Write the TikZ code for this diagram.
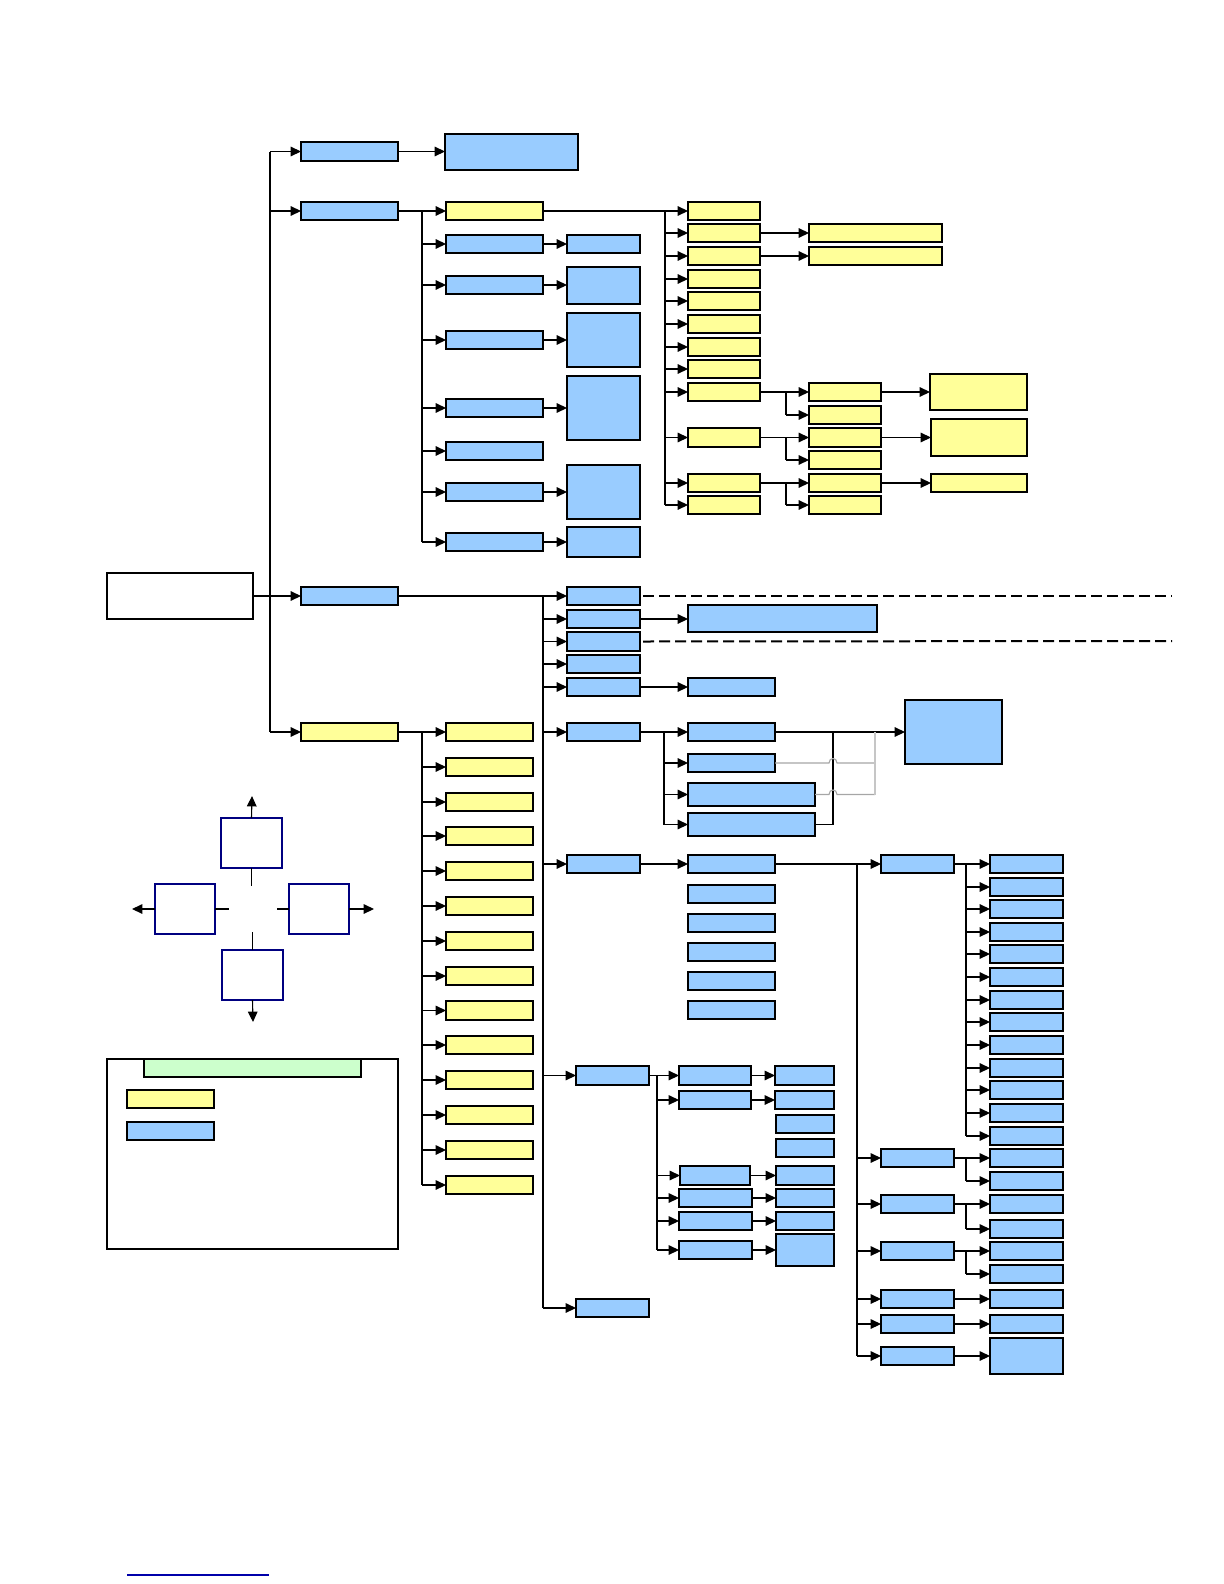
\documentclass[tikz,border=0pt]{standalone}
\usetikzlibrary{arrows.meta,fit}
\definecolor{boxblue}{HTML}{99CCFF}
\definecolor{boxyel}{HTML}{FFFF99}
\definecolor{boxgrn}{HTML}{CCFFCC}
\definecolor{navyb}{HTML}{000080}
\definecolor{lnblue}{HTML}{0000AA}
\tikzset{
  base/.style={draw=black, line width=0.6pt, inner sep=0pt, outer sep=0pt},
  bl/.style={base, fill=boxblue},
  yl/.style={base, fill=boxyel},
  gr/.style={base, fill=boxgrn},
  wh/.style={base, fill=white},
  nv/.style={base, draw=navyb, fill=white},
  ln/.style={line width=0.55pt},
  arr/.style={ln, -{Triangle[length=5.2pt,width=4.8pt]}},
  dsh/.style={line width=1pt, dash pattern=on 5.5pt off 2.5pt},
  gry/.style={line width=0.55pt, draw=gray!70},
  gryv/.style={line width=0.55pt, draw=gray!45},
}
\newcommand\bx[6]{\node[#2, fit={(#3,#4) (#5,#6)}] (#1) {};}
\begin{document}
\begin{tikzpicture}[x=0.5pt,y=-0.5pt]
\useasboundingbox (0,0) rectangle (1224,1584);
% ---------- boxes ----------
\bx{root}{wh}{107}{573}{253}{619}
\bx{A1}{bl}{301}{142}{398}{161}
\bx{A1b}{bl}{445}{134}{578}{170}
\bx{A2}{bl}{301}{202}{398}{220}
\bx{A3}{bl}{301}{587}{398}{605}
\bx{A4}{yl}{301}{723}{398}{741}
% A2 subtree
\bx{B1}{yl}{446}{202}{543}{220}
\bx{B2}{bl}{446}{235}{543}{253}
\bx{B3}{bl}{446}{276}{543}{294}
\bx{B4}{bl}{446}{331}{543}{349}
\bx{B5}{bl}{446}{399}{543}{417}
\bx{B6}{bl}{446}{442}{543}{460}
\bx{B7}{bl}{446}{483}{543}{501}
\bx{B8}{bl}{446}{533}{543}{551}
\bx{C2}{bl}{567}{235}{640}{253}
\bx{C3}{bl}{567}{267}{640}{304}
\bx{C4}{bl}{567}{313}{640}{367}
\bx{C5}{bl}{567}{376}{640}{440}
\bx{C7}{bl}{567}{465}{640}{519}
\bx{C8}{bl}{567}{527}{640}{557}
% D column
\bx{D1}{yl}{688}{202}{760}{220}
\bx{D2}{yl}{688}{224}{760}{242}
\bx{D3}{yl}{688}{247}{760}{265}
\bx{D4}{yl}{688}{270}{760}{288}
\bx{D5}{yl}{688}{292}{760}{310}
\bx{D6}{yl}{688}{315}{760}{333}
\bx{D7}{yl}{688}{338}{760}{356}
\bx{D8}{yl}{688}{360}{760}{378}
\bx{D9}{yl}{688}{383}{760}{401}
\bx{D10}{yl}{688}{428}{760}{447}
\bx{D11}{yl}{688}{474}{760}{492}
\bx{D12}{yl}{688}{496}{760}{514}
\bx{E2}{yl}{809}{224}{942}{242}
\bx{E3}{yl}{809}{247}{942}{265}
\bx{Fa9}{yl}{809}{383}{881}{401}
\bx{Fb9}{yl}{809}{406}{881}{424}
\bx{Fa10}{yl}{809}{428}{881}{447}
\bx{Fb10}{yl}{809}{451}{881}{469}
\bx{Fa11}{yl}{809}{474}{881}{492}
\bx{Fb11}{yl}{809}{496}{881}{514}
\bx{G9}{yl}{930}{374}{1027}{410}
\bx{G10}{yl}{931}{419}{1027}{456}
\bx{G11}{yl}{931}{474}{1027}{492}
% H column
\bx{H1}{bl}{567}{587}{640}{605}
\bx{H2}{bl}{567}{610}{640}{628}
\bx{H3}{bl}{567}{632}{640}{651}
\bx{H4}{bl}{567}{655}{640}{673}
\bx{H5}{bl}{567}{678}{640}{696}
\bx{H6}{bl}{567}{723}{640}{741}
\bx{K}{bl}{567}{855}{640}{873}
\bx{O}{bl}{576}{1066}{649}{1085}
\bx{R}{bl}{576}{1299}{649}{1317}
\bx{H2b}{bl}{688}{605}{877}{632}
\bx{H5b}{bl}{688}{678}{775}{696}
% I group
\bx{I1}{bl}{688}{723}{775}{741}
\bx{I2}{bl}{688}{754}{775}{772}
\bx{I3}{bl}{688}{783}{815}{806}
\bx{I4}{bl}{688}{813}{815}{836}
\bx{J}{bl}{905}{700}{1002}{764}
% K group
\bx{L1}{bl}{688}{855}{775}{873}
\bx{L2}{bl}{688}{885}{775}{903}
\bx{L3}{bl}{688}{914}{775}{932}
\bx{L4}{bl}{688}{943}{775}{961}
\bx{L5}{bl}{688}{972}{775}{990}
\bx{L6}{bl}{688}{1001}{775}{1019}
\bx{M1}{bl}{881}{855}{954}{873}
\bx{M2}{bl}{881}{1149}{954}{1167}
\bx{M3}{bl}{881}{1195}{954}{1213}
\bx{M4}{bl}{881}{1242}{954}{1260}
\bx{M5}{bl}{881}{1290}{954}{1308}
\bx{M6}{bl}{881}{1315}{954}{1333}
\bx{M7}{bl}{881}{1347}{954}{1365}
\bx{N1}{bl}{990}{855}{1063}{873}
\bx{N2}{bl}{990}{878}{1063}{896}
\bx{N3}{bl}{990}{900}{1063}{918}
\bx{N4}{bl}{990}{923}{1063}{941}
\bx{N5}{bl}{990}{945}{1063}{963}
\bx{N6}{bl}{990}{968}{1063}{986}
\bx{N7}{bl}{990}{991}{1063}{1009}
\bx{N8}{bl}{990}{1013}{1063}{1031}
\bx{N9}{bl}{990}{1036}{1063}{1054}
\bx{N10}{bl}{990}{1059}{1063}{1077}
\bx{N11}{bl}{990}{1081}{1063}{1099}
\bx{N12}{bl}{990}{1104}{1063}{1122}
\bx{N13}{bl}{990}{1127}{1063}{1145}
\bx{S1}{bl}{990}{1149}{1063}{1167}
\bx{S2}{bl}{990}{1172}{1063}{1190}
\bx{T1}{bl}{990}{1195}{1063}{1213}
\bx{T2}{bl}{990}{1220}{1063}{1238}
\bx{U1}{bl}{990}{1242}{1063}{1260}
\bx{U2}{bl}{990}{1265}{1063}{1283}
\bx{V}{bl}{990}{1290}{1063}{1308}
\bx{W}{bl}{990}{1315}{1063}{1333}
\bx{X}{bl}{990}{1338}{1063}{1374}
% O group
\bx{P1}{bl}{679}{1066}{751}{1085}
\bx{P2}{bl}{679}{1091}{751}{1109}
\bx{P5}{bl}{680}{1166}{750}{1185}
\bx{P6}{bl}{679}{1189}{752}{1207}
\bx{P7}{bl}{679}{1212}{752}{1230}
\bx{P8}{bl}{679}{1241}{752}{1259}
\bx{Q1}{bl}{775}{1066}{834}{1085}
\bx{Q2}{bl}{775}{1091}{834}{1109}
\bx{Q3}{bl}{776}{1115}{834}{1133}
\bx{Q4}{bl}{776}{1139}{834}{1157}
\bx{Q5}{bl}{776}{1166}{834}{1185}
\bx{Q6}{bl}{776}{1189}{834}{1207}
\bx{Q7}{bl}{776}{1212}{834}{1230}
\bx{Q8}{bl}{776}{1234}{834}{1266}
% Y column
\bx{Y1}{yl}{446}{723}{533}{741}
\bx{Y2}{yl}{446}{758}{533}{776}
\bx{Y3}{yl}{446}{793}{533}{811}
\bx{Y4}{yl}{446}{827}{533}{845}
\bx{Y5}{yl}{446}{862}{533}{880}
\bx{Y6}{yl}{446}{897}{533}{915}
\bx{Y7}{yl}{446}{932}{533}{950}
\bx{Y8}{yl}{446}{967}{533}{985}
\bx{Y9}{yl}{446}{1001}{533}{1020}
\bx{Y10}{yl}{446}{1036}{533}{1054}
\bx{Y11}{yl}{446}{1071}{533}{1089}
\bx{Y12}{yl}{446}{1106}{533}{1124}
\bx{Y13}{yl}{446}{1141}{533}{1159}
\bx{Y14}{yl}{446}{1176}{533}{1194}
% compass
\bx{cu}{nv}{221}{818}{282}{868}
\bx{cl}{nv}{155}{884}{215}{934}
\bx{cr}{nv}{289}{884}{349}{934}
\bx{cd}{nv}{222}{950}{283}{1000}
% legend
\bx{leg}{wh}{107}{1059}{398}{1249}
\bx{legG}{gr}{144}{1059}{361}{1077}
\bx{legY}{yl}{127}{1090}{214}{1108}
\bx{legB}{bl}{127}{1122}{214}{1140}
% ---------- connectors ----------
\coordinate (t1) at (270,0);
\draw[arr] (root.east) -- (A3.west);
\draw[ln] (A1.west -| t1) -- (A4.west -| t1);
\foreach \n in {A1,A2,A4} \draw[arr] (\n.west -| t1) -- (\n.west);
\draw[arr] (A1.east) -- (A1b.west |- A1.east);
% A2 subtree
\coordinate (t2) at (422,0);
\draw[arr] (A2.east) -- (B1.west);
\draw[ln] (B1.west -| t2) -- (B8.west -| t2);
\foreach \n in {B2,B3,B4,B5,B6,B7,B8} \draw[arr] (\n.west -| t2) -- (\n.west);
\foreach \n in {2,3,4,5,7,8} \draw[arr] (B\n.east) -- (C\n.west |- B\n.east);
\coordinate (t3) at (665,0);
\draw[arr] (B1.east) -- (D1.west);
\draw[ln] (D1.west -| t3) -- (D12.west -| t3);
\foreach \n in {2,...,12} \draw[arr] (D\n.west -| t3) -- (D\n.west);
\draw[arr] (D2.east) -- (E2.west);
\draw[arr] (D3.east) -- (E3.west);
\coordinate (t4) at (786,0);
\foreach \n in {9,10,11} {
  \draw[arr] (D\n.east) -- (Fa\n.west);
  \draw[ln] (Fa\n.west -| t4) -- (Fb\n.west -| t4);
  \draw[arr] (Fb\n.west -| t4) -- (Fb\n.west);
  \draw[arr] (Fa\n.east) -- (G\n.west |- Fa\n.east);
}
% A3 subtree
\coordinate (t5) at (543,0);
\draw[arr] (A3.east) -- (H1.west);
\draw[ln] (H1.west -| t5) -- (R.west -| t5);
\foreach \n in {H2,H3,H4,H5,H6,K,O,R} \draw[arr] (\n.west -| t5) -- (\n.west);
\coordinate (d1) at (1172,596);
\coordinate (d2) at (1172,641);
\draw[dsh] ([xshift=1.5pt]H1.east) -- (d1);
\draw[dsh] ([xshift=1.5pt]H3.east) -- (d2);
\draw[arr] (H2.east) -- (H2b.west |- H2.east);
\draw[arr] (H5.east) -- (H5b.west);
% I group
\coordinate (t6) at (664,0);
\draw[arr] (H6.east) -- (I1.west);
\draw[ln] (I1.west -| t6) -- (I4.west -| t6);
\foreach \n in {I2,I3,I4} \draw[arr] (\n.west -| t6) -- (\n.west);
\draw[arr] (I1.east) -- (J.west |- I1.east);
\coordinate (j1) at (833,0);
\draw[ln] (I4.east) -| (j1 |- I1.east);
\coordinate (gv) at (875,0);
\draw[gry] (I2.east) -- (829,763) .. controls (829,757) and (837,757) .. (837,763) -- (gv |- I2.east);
\draw[gry] (I3.east) -- (829,794.5) .. controls (829,788.5) and (837,788.5) .. (837,794.5) -- (gv |- I3.east);
\draw[gryv] (gv |- I3.east) -- (gv |- I1.east);
% K group
\draw[arr] (K.east) -- (L1.west);
\coordinate (t7) at (857,0);
\draw[arr] (L1.east) -- (M1.west);
\draw[ln] (M1.west -| t7) -- (M7.west -| t7);
\foreach \n in {2,...,7} \draw[arr] (M\n.west -| t7) -- (M\n.west);
\coordinate (t8) at (966,0);
\draw[arr] (M1.east) -- (N1.west);
\draw[ln] (N1.west -| t8) -- (N13.west -| t8);
\foreach \n in {2,...,13} \draw[arr] (N\n.west -| t8) -- (N\n.west);
\foreach \a/\b/\c in {M2/S1/S2, M3/T1/T2, M4/U1/U2} {
  \draw[arr] (\a.east) -- (\b.west);
  \draw[ln] (\b.west -| t8) -- (\c.west -| t8);
  \draw[arr] (\c.west -| t8) -- (\c.west);
}
\draw[arr] (M5.east) -- (V.west);
\draw[arr] (M6.east) -- (W.west);
\draw[arr] (M7.east) -- (X.west |- M7.east);
% O group
\coordinate (t9) at (657,0);
\draw[arr] (O.east) -- (P1.west);
\draw[ln] (P1.west -| t9) -- (P8.west -| t9);
\foreach \n in {2,5,6,7,8} \draw[arr] (P\n.west -| t9) -- (P\n.west);
\foreach \n in {1,2,5,6,7,8} \draw[arr] (P\n.east) -- (Q\n.west |- P\n.east);
% A4 subtree
\coordinate (t10) at (422,0);
\draw[arr] (A4.east) -- (Y1.west);
\draw[ln] (Y1.west -| t10) -- (Y14.west -| t10);
\foreach \n in {2,...,14} \draw[arr] (Y\n.west -| t10) -- (Y\n.west);
% compass
\coordinate (cuT) at (252,796);
\coordinate (clT) at (132,909);
\coordinate (crT) at (374,909);
\coordinate (cdT) at (253,1022);
\draw[arr] (cu.north) -- (cuT);
\draw[ln] (cu.south) -- ++(0,18);
\draw[arr] (cl.west) -- (clT);
\draw[ln] (cl.east) -- ++(14,0);
\draw[arr] (cr.east) -- (crT);
\draw[ln] (cr.west) -- ++(-12,0);
\draw[ln] (cd.north) -- ++(0,-18);
\draw[arr] (cd.south) -- (cdT);
% bottom line
\coordinate (bl1) at (127,1575);
\coordinate (bl2) at (269,1575);
\draw[draw=lnblue, line width=1pt] (bl1) -- (bl2);
\end{tikzpicture}
\end{document}
